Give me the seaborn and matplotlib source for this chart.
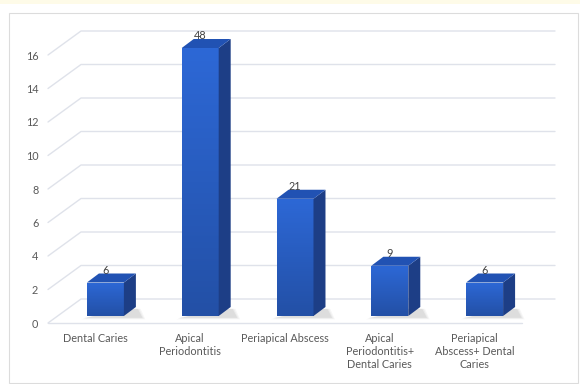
import numpy as np
import pandas as pd
import matplotlib
matplotlib.use("Agg")
import matplotlib.pyplot as plt
import seaborn as sns
from matplotlib.patches import Polygon, Rectangle
from matplotlib.colors import LinearSegmentedColormap

# ---- data ----
categories = ["Dental Caries", "Apical\nPeriodontitis", "Periapical Abscess",
              "Apical\nPeriodontitis+\nDental Caries", "Periapical\nAbscess+ Dental\nCaries"]
heights = [2, 16, 7, 3, 2]
value_labels = ["6", "48", "21", "9", "6"]
yticks = [0, 2, 4, 6, 8, 10, 12, 14, 16]

W, H = 580, 384
sns.set_style("white")
plt.rcParams['font.family'] = ['Lato', 'DejaVu Sans']

fig = plt.figure(figsize=(W / 100, H / 100), dpi=100)
fig.patch.set_facecolor("white")


def px(l, t, r, b):
    return [l / W, 1 - b / H, (r - l) / W, (b - t) / H]


# background decorations
fig.patches.append(Rectangle((0, 1 - 4 / H), 1, 4 / H, transform=fig.transFigure,
                             facecolor="#fefbe8", edgecolor="none", zorder=0))
fig.patches.append(Rectangle((9 / W, 1 / H), (578 - 9) / W, (383 - 13) / H,
                             transform=fig.transFigure, facecolor="none",
                             edgecolor="#dcdcdc", linewidth=0.8, zorder=0))

# ---- main (front plane) axes: grid, ticks ----
ax = fig.add_axes(px(48, 55, 522, 323))
ax.set_facecolor("none")
ax.set_xlim(-0.5, 4.5)
ax.set_ylim(0, 16)
for s in ax.spines.values():
    s.set_visible(False)

DX = 33 / 94.8   # depth offset in data units (x)
DY = 24 / 16.75  # depth offset in data units (y)
grid_c = "#dfe2ea"
for v in yticks:
    ax.plot([-0.5, -0.5 + DX, 4.5 + DX], [v, v + DY, v + DY], color=grid_c,
            lw=1.0, clip_on=False, zorder=0)
ax.plot([-0.5, 4.5], [0, 0], color=grid_c, lw=1.0, clip_on=False, zorder=0)

ax.set_yticks(yticks)
ax.set_yticklabels([str(v) for v in yticks])
ax.set_xticks(range(len(categories)))
ax.set_xticklabels(categories, linespacing=1.25)
ax.tick_params(axis="y", length=0, pad=7, labelsize=7.8, labelcolor="#595959")
ax.tick_params(axis="x", length=0, pad=7, labelsize=7.8, labelcolor="#595959")
for t in ax.get_xticklabels():
    t.set_verticalalignment("top")

# ---- bar axes (shifted into depth) ----
bx = fig.add_axes(px(58, 48, 532, 316))
bx.set_facecolor("none")
df = pd.DataFrame({"cat": categories, "val": heights})
sns.barplot(data=df, x="cat", y="val", ax=bx, width=0.39, color="#2a5fc4",
            saturation=1, edgecolor="none", zorder=3)
bx.set_xlim(-0.5, 4.5)
bx.set_ylim(0, 16)
bx.axis("off")

SDX = 12 / 94.8
SDY = 9 / 16.75
grad_cmap = LinearSegmentedColormap.from_list("g", ["#2350a6", "#2d68d6"])
grad = np.linspace(0, 1, 100).reshape(-1, 1)

for i, p in enumerate(list(bx.patches)):
    x0, w, h = p.get_x(), p.get_width(), p.get_height()
    p.set_clip_on(False)
    # soft shadow
    for k, a in enumerate([0.035, 0.045, 0.06]):
        e = 0.04 - k * 0.015
        bx.add_patch(Polygon([(x0 - 0.02 - e, -0.08 - e * 3), (x0 + w + SDX + 0.06 + e, -0.08 - e * 3),
                              (x0 + w + SDX + 0.01 + e, SDY * 0.8), (x0 + w, SDY * 0.8)],
                             closed=True, facecolor="#000000", alpha=a,
                             edgecolor="none", zorder=1, clip_on=False))
    # gradient front face
    im = bx.imshow(grad, extent=[x0, x0 + w, 0, h], origin="lower", aspect="auto",
                   cmap=grad_cmap, zorder=4)
    im.set_clip_path(p)
    # side face
    bx.add_patch(Polygon([(x0 + w, 0), (x0 + w + SDX, SDY), (x0 + w + SDX, h + SDY), (x0 + w, h)],
                         closed=True, facecolor="#1d3e86", edgecolor="none", zorder=4,
                         clip_on=False))
    # top face
    bx.add_patch(Polygon([(x0, h), (x0 + w, h), (x0 + w + SDX, h + SDY), (x0 + SDX, h + SDY)],
                         closed=True, facecolor="#2152b3", edgecolor="none", zorder=4,
                         clip_on=False))
    bx.text(x0 + w / 2, h + 0.72, value_labels[i], ha="center", va="center",
            fontsize=7.8, color="#404040", zorder=5, clip_on=False)

bx.set_xlim(-0.5, 4.5)
bx.set_ylim(0, 16)

fig.savefig("out.png", dpi=100, facecolor="white")
